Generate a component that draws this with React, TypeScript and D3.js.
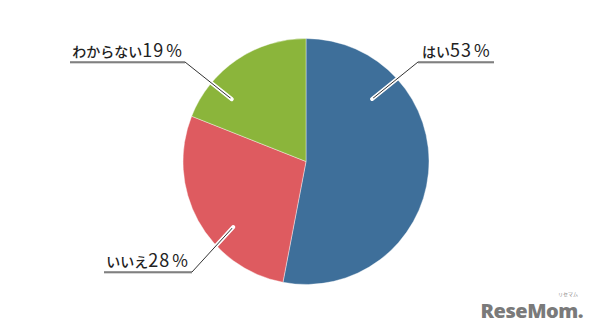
import React from "react";
import * as d3 from "d3";

const categories = ["はい", "いいえ", "わからない"];
const values = [53, 28, 19];
const colors = ["#3e6f9a", "#de5b60", "#8bb53b"];

// layout for labels (angle in degrees clockwise from top, radius of leader end, label elbow, underline end)
const labelLayout = [
  { angle: 46.6, r: 91, elbow: [418, 62], lineEnd: 494, anchor: "start", tx: 422 },
  { angle: 228, r: 98, elbow: [192, 272], lineEnd: 104, anchor: "end", tx: 188 },
  { angle: 310, r: 97, elbow: [185, 62], lineEnd: 70, anchor: "end", tx: 182 },
];

const W = 594, H = 334;
const cx = 306, cy = 161.5, R = 123;

export default function App() {
  const pie = d3.pie<number>().sort(null).value((d) => d);
  const arcs = pie(values);
  const arc = d3.arc<d3.PieArcDatum<number>>().innerRadius(0).outerRadius(R);
  const font = "'Noto Sans CJK JP', 'Noto Sans', sans-serif";
  return (
    <svg width={W} height={H} style={{ position: "absolute", left: 0, top: 0, background: "#fff" }}>
      <g transform={`translate(${cx},${cy})`}>
        {arcs.map((a, i) => (
          <path key={i} d={arc(a) || ""} fill={colors[i]} stroke="#fff" strokeWidth={0.4} />
        ))}
      </g>
      {labelLayout.map((l, i) => {
        const rad = (l.angle * Math.PI) / 180;
        const ex = cx + l.r * Math.sin(rad);
        const ey = cy - l.r * Math.cos(rad);
        const [bx, by] = l.elbow;
        const pts = `${ex},${ey} ${bx},${by} ${l.lineEnd},${by}`;
        return (
          <g key={i}>
            <polyline points={`${ex},${ey} ${bx},${by}`} fill="none" stroke="#fff" strokeWidth={4} strokeLinecap="round" />
            <polyline points={pts} fill="none" stroke="#333" strokeWidth={1} />
            <line x1={l.lineEnd} y1={by + 0.8} x2={bx} y2={by + 0.8} stroke="#777" strokeWidth={1} />
            <circle cx={ex} cy={ey} r={1.6} fill="#fff" />
            <text x={l.tx} y={by - 5} textAnchor={l.anchor as any} fontFamily={font} fill="#222">
              <tspan fontSize={14} fontWeight={500}>{categories[i]}</tspan>
              <tspan fontSize={18} fontWeight={400} letterSpacing={1}>{values[i]}</tspan>
              <tspan fontSize={17} fontWeight={400} dx={2}>%</tspan>
            </text>
          </g>
        );
      })}
      <text x={583} y={318} textAnchor="end" fontFamily="'Open Sans', sans-serif" fontWeight={800} fontSize={20} fill="#7a7a7a" letterSpacing={-0.5}>ReseMom.</text>
      <text x={568} y={296} textAnchor="middle" fontFamily={font} fontSize={5} fill="#888">リセマム</text>
    </svg>
  );
}
